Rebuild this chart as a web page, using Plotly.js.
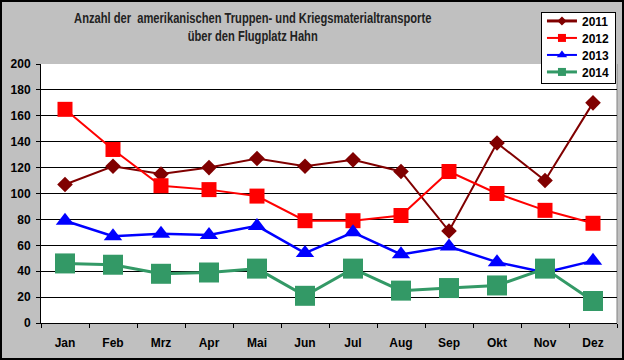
<!DOCTYPE html>
<html>
<head>
<meta charset="utf-8">
<script src="https://cdn.plot.ly/plotly-3.0.1.min.js"></script>
<style>
html,body{margin:0;padding:0;background:#c0c0c0;}
#wrap{position:relative;width:624px;height:360px;}
#chart{width:624px;height:360px;}
#frame{position:absolute;left:0;top:0;width:624px;height:360px;box-sizing:border-box;border:2px solid #000;pointer-events:none;}
</style>
</head>
<body>
<div id="wrap"><div id="chart"></div><div id="frame"></div></div>
<script>
const months = ["Jan","Feb","Mrz","Apr","Mai","Jun","Jul","Aug","Sep","Okt","Nov","Dez"];
const seriesNames = ["2011","2012","2013","2014"];
const y2011 = [107,121,115,120,127,121,126,117,71,139,110,170];
const y2012 = [165,134,106,103,98,79,79,83,117,100,87,77];
const y2013 = [79,67,69,68,75,54,70,53,59,47,39,48];
const y2014 = [46,45,38,39,42,21,42,25,27,29,42,17];
const titleText = "Anzahl der \u00a0amerikanischen Truppen- und Kriegsmaterialtransporte<br>über den Flugplatz Hahn";

const colors = ["#800000","#ff0000","#0000ff","#339966"];
const symbols = ["diamond","square","triangle-up","square"];
const sizes = [12,15,16,20];
const widths = [2,2,2.5,3];
const legendSizes = [7,8,9,8];
const legendWidths = [3,2,2,3];
const values = [y2011,y2012,y2013,y2014];

const traces = [];
values.forEach((v,i)=>{
  traces.push({name:seriesNames[i], x:months, y:v, mode:"lines+markers", showlegend:false, legendgroup:seriesNames[i],
    line:{color:colors[i], width:widths[i]}, marker:{symbol:symbols[i], size:sizes[i], color:colors[i]}});
});
values.forEach((v,i)=>{
  traces.push({name:seriesNames[i], x:[null], y:[null], mode:"lines+markers", showlegend:true, legendgroup:seriesNames[i],
    line:{color:colors[i], width:legendWidths[i]}, marker:{symbol:symbols[i], size:legendSizes[i], color:colors[i]}, hoverinfo:"skip"});
});

const tickFont = {family:"Liberation Sans, Arial, sans-serif", size:12, color:"#000", weight:"bold"};

const layout = {
  width:624, height:360,
  paper_bgcolor:"#c0c0c0", plot_bgcolor:"#ffffff",
  margin:{l:41, r:7, t:64, b:37, pad:0},
  showlegend:true,
  title:{text:titleText, x:0.405, xanchor:"center", xref:"container", y:0.937, yref:"container", yanchor:"top",
         font:{family:"Liberation Sans, Arial, sans-serif", size:14, color:"#222", weight:"bold"}},
  xaxis:{type:"category", categoryarray:months, categoryorder:"array", range:[-0.5, months.length-0.5],
         tickson:"boundaries", ticks:"outside", ticklen:4, tickcolor:"#000", tickwidth:1,
         showline:true, linecolor:"#000", linewidth:1, showgrid:false, tickfont:tickFont, ticklabelstandoff:9, fixedrange:true},
  yaxis:{range:[0,200], dtick:20, ticks:"outside", ticklen:4, tickcolor:"#000", tickwidth:1,
         showline:true, linecolor:"#000", linewidth:1, gridcolor:"#000", gridwidth:1,
         zeroline:true, zerolinecolor:"#000", zerolinewidth:1, tickfont:tickFont, ticklabelstandoff:3, fixedrange:true},
  legend:{x:0.868, xanchor:"left", y:1.201, yanchor:"top", bgcolor:"#ffffff", bordercolor:"#000", borderwidth:1,
          font:{family:"Liberation Sans, Arial, sans-serif", size:12, color:"#000", weight:"bold"},
          tracegroupgap:0, itemwidth:30},
  shapes:[{type:"line", xref:"paper", yref:"paper", x0:1, x1:1, y0:0, y1:1, line:{color:"#808080", width:1}, layer:"below"}]
};

Plotly.newPlot("chart", traces, layout, {displayModeBar:false, staticPlot:true}).then(()=>{
  // compress the title horizontally, like the narrow bold face of the original
  const t = document.querySelector("#chart .gtitle");
  if (t) {
    const bb = t.getBBox();
    const cx = bb.x + bb.width/2;
    const s = 358 / bb.width;
    const prev = t.getAttribute("transform") || "";
    t.setAttribute("transform", prev + ` translate(${cx},0) scale(${s},1) translate(${-cx},0)`);
  }
  // tighten legend rows to the original spacing
  const items = document.querySelectorAll("#chart .legend .traces");
  items.forEach((g,i)=>{
    const m = /translate\(\s*([-\d.]+)[ ,]+([-\d.]+)\s*\)/.exec(g.getAttribute("transform") || "");
    const x = m ? parseFloat(m[1]) : 0;
    g.setAttribute("transform", `translate(${x},${9 + i*17})`);
  });
  const bg = document.querySelector("#chart .legend .bg");
  if (bg) bg.setAttribute("height", 71);
});
</script>
</body>
</html>
